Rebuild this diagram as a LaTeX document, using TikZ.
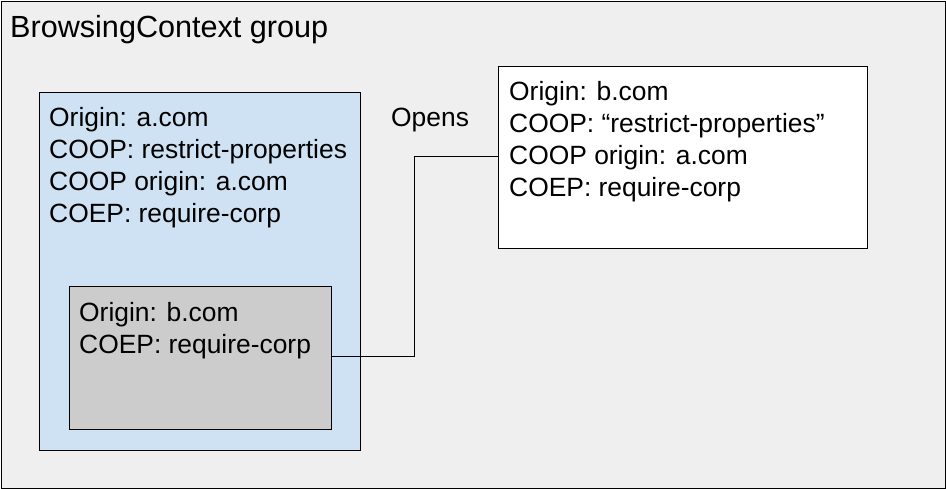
\documentclass[tikz,border=0pt]{standalone}
\usepackage{fontspec}
\setmainfont{Liberation Sans}
\definecolor{bggray}{HTML}{EFEFEF}
\definecolor{lblue}{HTML}{CFE2F3}
\definecolor{mgray}{HTML}{CCCCCC}
\begin{document}
\begin{tikzpicture}[x=1pt,y=-1pt,
  box/.style={draw=black,line width=1pt,rectangle,inner sep=0pt,anchor=north west},
  txt/.style={anchor=base west,inner sep=0pt,font=\fontsize{26.4}{32}\selectfont,align=left},
  conn/.style={draw=black,line width=1pt}]
\useasboundingbox (0,0) rectangle (946,489);
\node[box,fill=bggray,minimum width=944pt,minimum height=487pt] (outer) at (0.8,0.8) {};
\node[txt,font=\fontsize{30.6}{34}\selectfont] (title) at (10,38) {BrowsingContext group};
\node[box,fill=lblue,minimum width=321pt,minimum height=358pt] (a) at (39,92) {};
\node[box,fill=mgray,minimum width=262pt,minimum height=143pt] (b) at (69,286) {};
\node[box,fill=white,minimum width=369pt,minimum height=182pt] (c) at (498,66) {};
\node[txt] (atext) at (49,223) {Origin: a.com\\COOP: restrict-properties\\COOP origin: a.com\\COEP: require-corp};
\node[txt] (btext) at (79,353) {Origin: b.com\\COEP: require-corp};
\node[txt] (ctext) at (509,197) {Origin: b.com\\COOP: “restrict-properties”\\COOP origin: a.com\\COEP: require-corp};
\node[txt] (opens) at (391,127) {Opens};
\draw[conn] (b.east |- 0,357) -- (414,357) -- (414,157) -- (c.west |- 0,157);
\end{tikzpicture}
\end{document}
